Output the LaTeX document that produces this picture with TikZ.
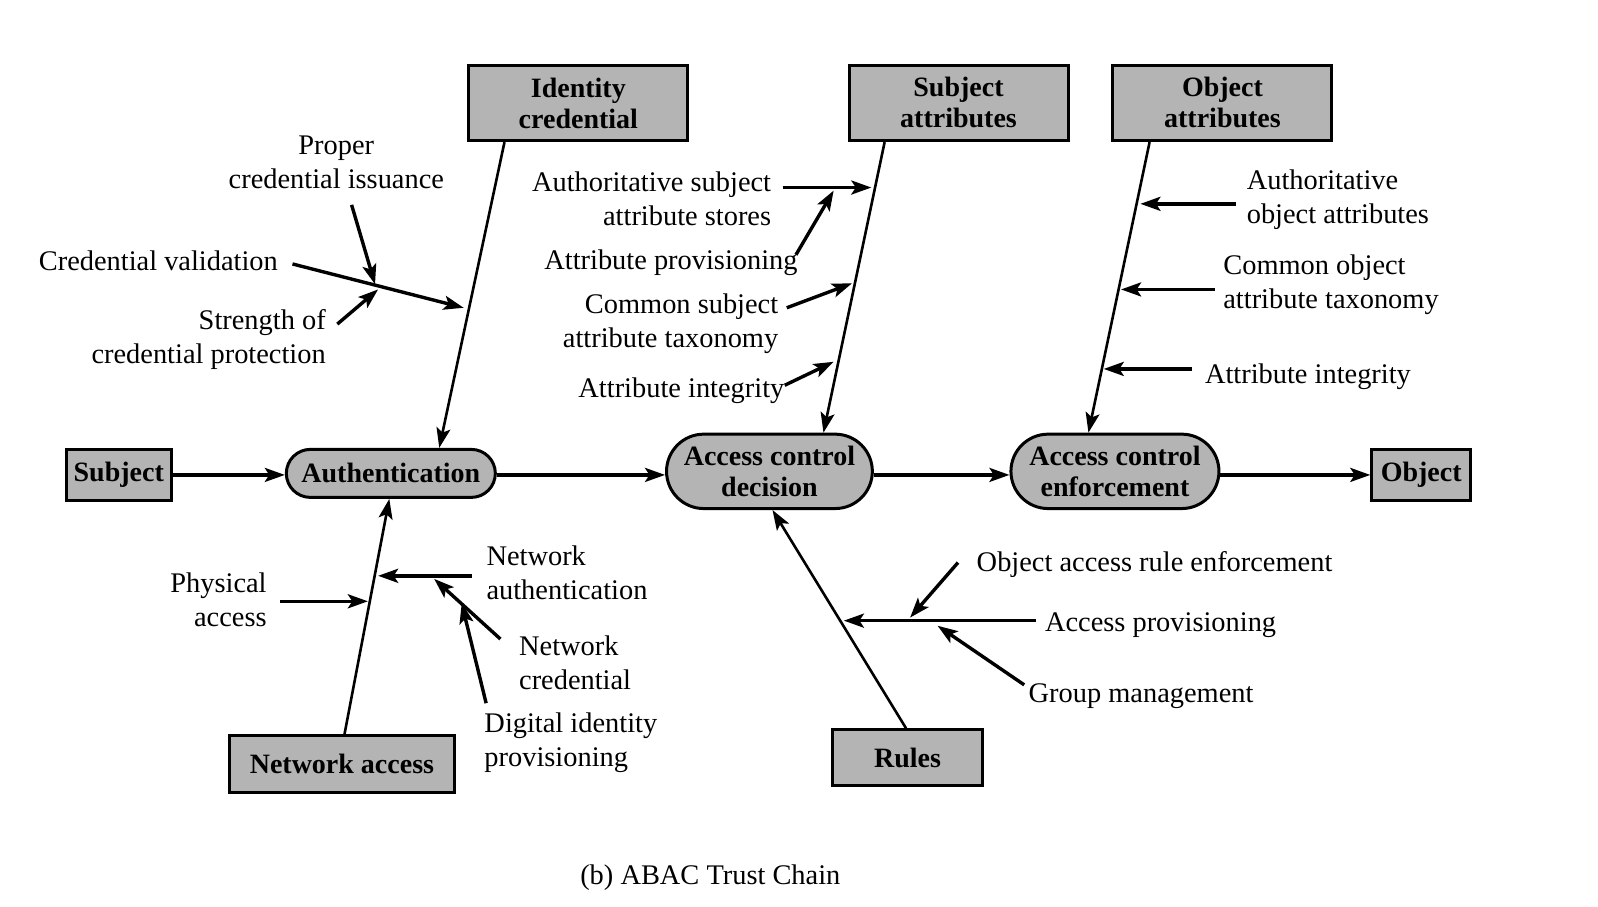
\documentclass[tikz,border=0pt]{standalone}
\usepackage{fontspec}
\setmainfont{Liberation Serif}
\usetikzlibrary{arrows.meta,calc}
\definecolor{boxgray}{RGB}{180,180,180}
\begin{document}
\begin{tikzpicture}[x=0.50955pt,y=-0.50955pt,
  tip/.tip={Stealth[length=10pt,width=7pt,inset=2.2pt]},
  box/.style={draw, line width=1.5pt, fill=boxgray, align=center, inner sep=0pt,
    font=\fontsize{14}{15.5}\selectfont\bfseries},
  oval/.style={box},
  lbl/.style={inner sep=0pt, font=\fontsize{14.2}{17}\selectfont},
  spine/.style={line width=1.3pt, -tip},
  branch/.style={line width=1.7pt, -tip},
  mainarrow/.style={line width=1.6pt, -tip}]
\useasboundingbox (0,0) rectangle (1568,889);

% boxes
\node[box, minimum width=109.5pt, minimum height=37.7pt] (idc) at (567.5,101) {Identity\\credential};
\node[box, minimum width=109.5pt, minimum height=37.7pt] (sat) at (940.5,101) {Subject\\attributes};
\node[box, minimum width=109.5pt, minimum height=37.7pt] (oat) at (1199.5,101) {Object\\attributes};
\node[box, minimum width=52.5pt, minimum height=25.5pt] (subj) at (116.5,466) {Subject};
\node[box, minimum width=49.4pt, minimum height=25.5pt] (obj) at (1394.5,466) {Object};
\node[box, minimum width=112.6pt, minimum height=28.5pt] (na) at (335.5,750) {Network access};
\node[box, minimum width=74.9pt, minimum height=28pt] (rul) at (890.5,743.5) {Rules};

% ovals
\node[oval, minimum width=104.5pt, minimum height=24pt, rounded corners=12pt] (auth) at (383.5,464.5) {Authentication};
\node[oval, minimum width=102.9pt, minimum height=37.2pt, rounded corners=18.6pt] (acd) at (755,462.5) {Access control\\decision};
\node[oval, minimum width=104pt, minimum height=37.2pt, rounded corners=18.6pt] (ace) at (1094,462.5) {Access control\\enforcement};

% main chain
\draw[mainarrow] (subj.east) -- (subj.east -| auth.west);
\draw[mainarrow] (auth.east |- subj.east) -- (subj.east -| acd.west);
\draw[mainarrow] (acd.east |- subj.east) -- (subj.east -| ace.west);
\draw[mainarrow] (ace.east |- subj.east) -- (obj.west);

% spines
\draw[spine] ($(idc.south)+(-72.5,0)$) -- ($(auth.north)+(47.5,0)$);
\draw[spine] ($(sat.south)+(-72.5,0)$) -- ($(acd.north)+(53,0)$);
\draw[spine] ($(oat.south)+(-71.5,0)$) -- ($(ace.north)+(-26,0)$);
\draw[spine] ($(na.north)+(2.5,0)$) -- ($(auth.south)+(-1.5,0)$);
\draw[spine] ($(rul.north)+(-1.5,0)$) -- ($(acd.south)+(3,0)$);

% labels
\node[lbl, align=center] (l1) at (330,159) {Proper\\credential issuance};
\node[lbl, anchor=east] (l2) at (273,256) {Credential validation};
\node[lbl, anchor=east, align=right] (l3) at (320,333.5) {Strength of\\credential protection};
\node[lbl, anchor=east, align=right] (l4) at (757,195.5) {Authoritative subject\\attribute stores};
\node[lbl, anchor=east] (l5) at (783,258) {Attribute provisioning};
\node[lbl, anchor=east, align=right] (l6) at (764,318) {Common subject\\attribute taxonomy};
\node[lbl, anchor=east] (l7) at (770,383) {Attribute integrity};
\node[lbl, anchor=west, align=left] (l8) at (1223,196) {Authoritative\\object attributes};
\node[lbl, anchor=west, align=left] (l9) at (1200,279.5) {Common object\\attribute taxonomy};
\node[lbl, anchor=west] (l10) at (1182,370) {Attribute integrity};
\node[lbl, anchor=east, align=right] (l11) at (262,589) {Physical\\access};
\node[lbl, anchor=west, align=left] (l12) at (477,562.5) {Network\\authentication};
\node[lbl, anchor=west, align=left] (l13) at (509,650) {Network\\credential};
\node[lbl, anchor=west, align=left] (l14) at (475,729) {Digital identity\\provisioning};
\node[lbl, anchor=west] (l15) at (958,554) {Object access rule enforcement};
\node[lbl, anchor=west] (l16) at (1025,613) {Access provisioning};
\node[lbl, anchor=west] (l17) at (1009,683) {Group management};
\node[lbl] (cap) at (697,861) {(b) ABAC Trust Chain};

% branch coordinates
\coordinate (a1) at (287,259); \coordinate (a2) at (455,302);
\coordinate (b1) at (345,201); \coordinate (b2) at (368,279);
\coordinate (c1) at (331,318); \coordinate (c2) at (371,284);
\coordinate (d1) at (768,184); \coordinate (d2) at (855,184);
\coordinate (e1) at (781,250); \coordinate (e2) at (818,187);
\coordinate (f1) at (772,302); \coordinate (f2) at (836,278);
\coordinate (g1) at (770,378); \coordinate (g2) at (818,355);
\coordinate (h1) at (1213,200); \coordinate (h2) at (1119,200);
\coordinate (i1) at (1192,284); \coordinate (i2) at (1100,284);
\coordinate (j1) at (1170,362); \coordinate (j2) at (1083,362);
\coordinate (k1) at (275,590); \coordinate (k2) at (361,590);
\coordinate (m1) at (463,565); \coordinate (m2) at (371,565);
\coordinate (n1) at (491,627); \coordinate (n2) at (426,568);
\coordinate (o1) at (477,690); \coordinate (o2) at (453,592);
\coordinate (p1) at (1017,609); \coordinate (p2) at (828,609);
\coordinate (q1) at (940,552); \coordinate (q2) at (893,606);
\coordinate (r1) at (1005,672); \coordinate (r2) at (920,614);

\foreach \s in {a,b,c,d,e,f,g,h,i,j,k,m,n,o,p,q,r}
  \draw[branch] (\s1) -- (\s2);
\end{tikzpicture}
\end{document}
